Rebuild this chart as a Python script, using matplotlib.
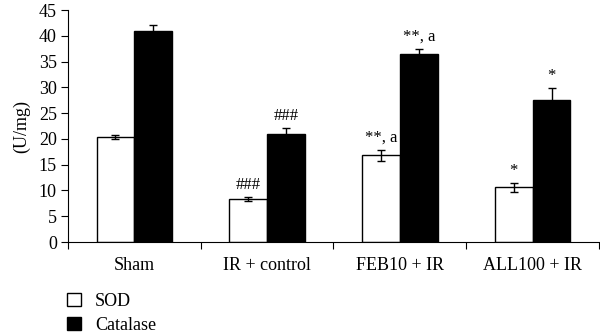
import numpy as np
import matplotlib.pyplot as plt
from matplotlib.patches import Patch

plt.rcParams['font.family'] = ['Liberation Serif', 'DejaVu Serif']

groups = ['Sham', 'IR + control', 'FEB10 + IR', 'ALL100 + IR']
sod = [20.4, 8.4, 16.8, 10.6]
sod_err = [0.4, 0.4, 1.0, 0.9]
cat = [41.0, 21.0, 36.5, 27.6]
cat_err = [1.1, 1.1, 1.0, 2.3]
sod_marks = ['', '###', '**, a', '*']
cat_marks = ['', '###', '**, a', '*']

fig = plt.figure(figsize=(6, 3.35), dpi=100)
ax = fig.add_axes([0.1133, 0.2776, 0.885, 0.6924])

x = np.arange(len(groups)) + 0.5
w = 0.285
ax.bar(x - w/2, sod, w, color='white', edgecolor='black', linewidth=1,
       yerr=sod_err, error_kw=dict(ecolor='black', elinewidth=1, capsize=3, capthick=1))
ax.bar(x + w/2, cat, w, color='black', edgecolor='black', linewidth=1,
       yerr=cat_err, error_kw=dict(ecolor='black', elinewidth=1, capsize=3, capthick=1))

for i in range(len(groups)):
    if sod_marks[i]:
        ax.text(x[i] - w/2, sod[i] + sod_err[i] + 0.8, sod_marks[i],
                ha='center', va='bottom', fontsize=12)
    if cat_marks[i]:
        ax.text(x[i] + w/2, cat[i] + cat_err[i] + 0.8, cat_marks[i],
                ha='center', va='bottom', fontsize=12)

ax.set_xlim(0, 4)
ax.set_ylim(0, 45)
ax.set_yticks(np.arange(0, 46, 5))
ax.set_xticks([0, 1, 2, 3, 4])
ax.set_xticklabels([])
ax.set_xticks(x, minor=True)
ax.set_xticklabels(groups, minor=True)
ax.tick_params(axis='x', which='minor', length=0, pad=11, labelsize=13)
ax.tick_params(axis='x', which='major', direction='out', length=5)
ax.tick_params(axis='y', direction='out', length=5, labelsize=13, pad=3)
ax.spines['top'].set_visible(False)
ax.spines['right'].set_visible(False)
ax.set_ylabel('(U/mg)', fontsize=13, labelpad=6)

handles = [Patch(facecolor='white', edgecolor='black', label='SOD'),
           Patch(facecolor='black', edgecolor='black', label='Catalase')]
fig.legend(handles=handles, loc='upper left', bbox_to_anchor=(0.1, 0.148),
           frameon=False, fontsize=13, handlelength=0.75, handleheight=0.75,
           handletextpad=0.8, labelspacing=0.4, borderaxespad=0)

fig.savefig('out.png', dpi=100)
